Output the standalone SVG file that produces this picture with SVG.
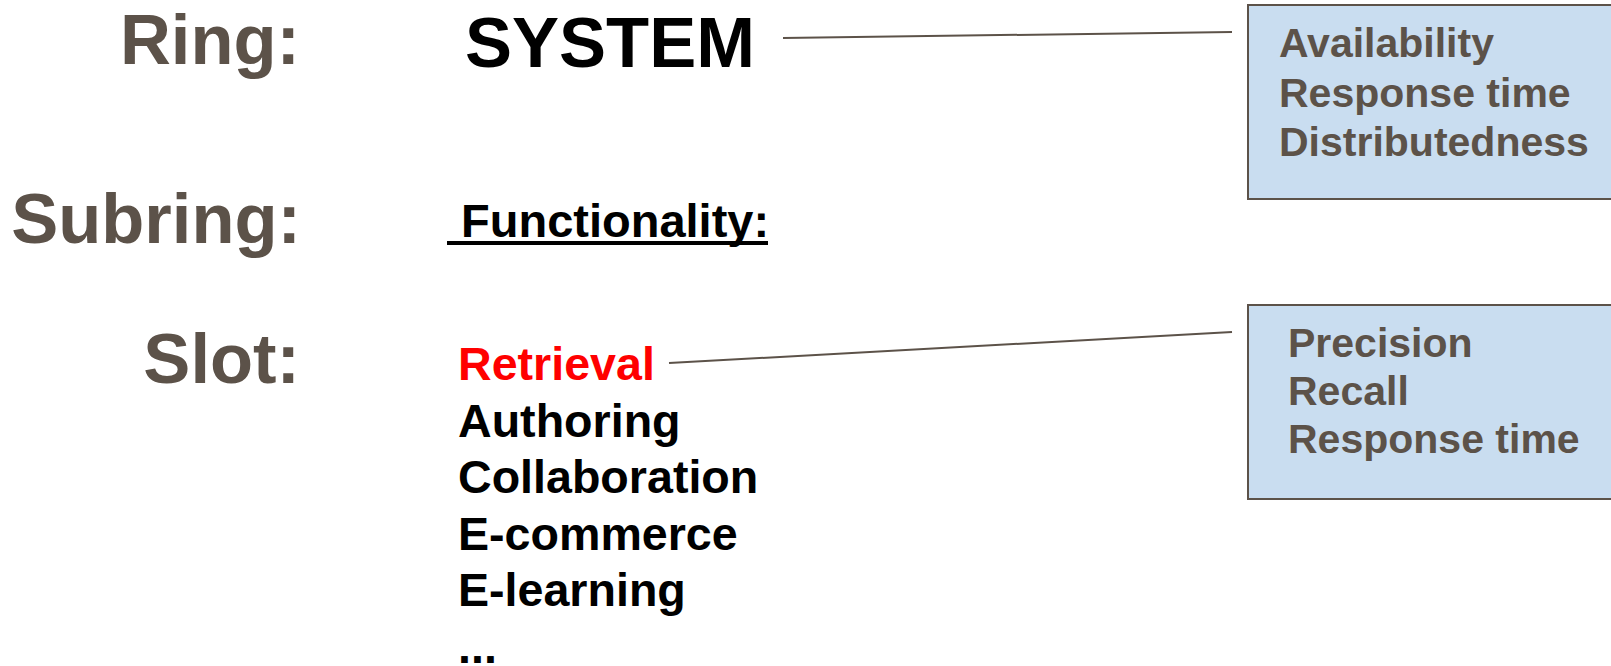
<svg xmlns="http://www.w3.org/2000/svg" width="1611" height="666" viewBox="0 0 1611 666">
<style>
.lbl{font-family:"Liberation Sans",Arial,sans-serif;font-weight:bold;font-size:70.5px;fill:#5c5249;text-anchor:end}
.main{font-family:"Liberation Sans",Arial,sans-serif;font-weight:bold;fill:#000}
.item{font-family:"Liberation Sans",Arial,sans-serif;font-weight:bold;font-size:46.6px;fill:#000}
.box{fill:#c9ddf0;stroke:#5c5249;stroke-width:2}
.btxt{font-family:"Liberation Sans",Arial,sans-serif;font-weight:bold;font-size:41px;fill:#5c5249}
.conn{stroke:#5c5249;stroke-width:2;fill:none}
</style>
<rect width="1611" height="666" fill="#fff"/>
<g id="labels">
<text class="lbl" x="300" y="64">Ring:</text>
<text class="lbl" x="301" y="243">Subring:</text>
<text class="lbl" x="300" y="383">Slot:</text>
</g>
<g id="system">
<text class="main" x="465" y="67" font-size="70.5">SYSTEM</text>
</g>
<g id="functionality">
<text class="main" x="461" y="237" font-size="47">Functionality:</text>
<rect x="447" y="241" width="321" height="4" fill="#000"/>
</g>
<g id="slots">
<text class="item" x="458" y="380" style="fill:#ff0000">Retrieval</text>
<text class="item" x="458" y="437">Authoring</text>
<text class="item" x="458" y="493">Collaboration</text>
<text class="item" x="458" y="550">E-commerce</text>
<text class="item" x="458" y="606">E-learning</text>
<text class="item" x="458" y="663">...</text>
</g>
<g id="box-system">
<rect class="box" x="1248" y="5" width="380" height="194"/>
<text class="btxt" x="1279" y="57">Availability</text>
<text class="btxt" x="1279" y="106.5">Response time</text>
<text class="btxt" x="1279" y="156">Distributedness</text>
</g>
<g id="box-retrieval">
<rect class="box" x="1248" y="305" width="380" height="194"/>
<text class="btxt" x="1288" y="357">Precision</text>
<text class="btxt" x="1288" y="405">Recall</text>
<text class="btxt" x="1288" y="453">Response time</text>
</g>
<g id="connectors">
<line class="conn" x1="783" y1="38" x2="1232" y2="32"/>
<line class="conn" x1="669" y1="363" x2="1232" y2="332"/>
</g>
</svg>
